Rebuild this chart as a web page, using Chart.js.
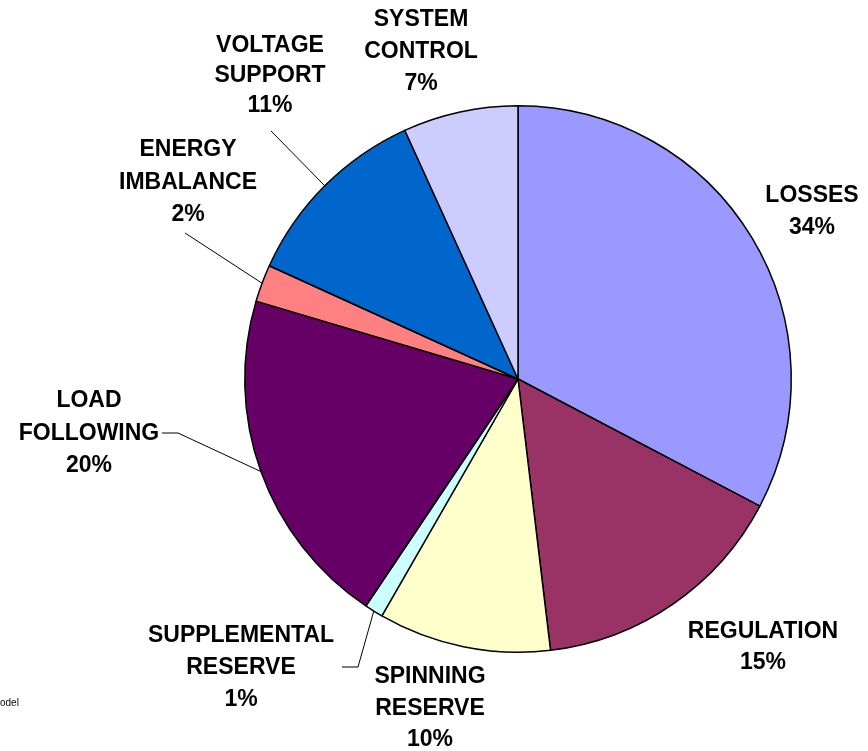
<!DOCTYPE html>
<html>
<head>
<meta charset="utf-8">
<script src="https://cdn.jsdelivr.net/npm/chart.js@4/dist/chart.umd.min.js"></script>
<style>
  html, body { margin: 0; padding: 0; background: #ffffff; }
  #wrap { width: 868px; height: 751px; position: relative; overflow: hidden; }
  #note { position: absolute; left: 0px; top: 697px; font: 10px 'Liberation Sans', Arial, sans-serif; color: #000; }
</style>
</head>
<body>
<div id="wrap"><canvas id="c" width="868" height="751"></canvas><div id="note">odel</div></div>
<script>
// ---- data ----
const categories = ["LOSSES", "REGULATION", "SPINNING RESERVE", "SUPPLEMENTAL RESERVE",
                    "LOAD FOLLOWING", "ENERGY IMBALANCE", "VOLTAGE SUPPORT", "SYSTEM CONTROL"];
const shares = [32.7, 15.4, 10.2, 1.1, 20.2, 2.2, 11.4, 6.8];
const percentLabels = ["34%", "15%", "10%", "1%", "20%", "2%", "11%", "7%"];
const labelLines = [["LOSSES"], ["REGULATION"], ["SPINNING", "RESERVE"], ["SUPPLEMENTAL", "RESERVE"],
                    ["LOAD", "FOLLOWING"], ["ENERGY", "IMBALANCE"], ["VOLTAGE", "SUPPORT"], ["SYSTEM", "CONTROL"]];

// ---- styling / layout ----
const colors = ["#9999FF", "#993366", "#FFFFCC", "#CCFFFF", "#660066", "#FF8080", "#0066CC", "#CCCCFF"];
// text block: center x, first line y, line spacing; leader: text-side points (null = none)
const labelLayout = [
  { x: 812, y: 196, dy: 32, leader: null },
  { x: 763, y: 632, dy: 31, leader: null },
  { x: 430, y: 677, dy: 31.5, leader: null },
  { x: 241, y: 636, dy: 32, leader: [[342, 667], [358, 667]] },
  { x: 89,  y: 401, dy: 32.5, leader: [[162, 433], [178, 433]] },
  { x: 188, y: 150, dy: 32.5, leader: [[185, 233]] },
  { x: 270, y: 46,  dy: 30, leader: [[271, 131]] },
  { x: 421, y: 20,  dy: 32, leader: null }
];

const labelPlugin = {
  id: 'sliceLabels',
  afterDraw(chart) {
    const ctx = chart.ctx;
    const meta = chart.getDatasetMeta(0);
    ctx.save();
    ctx.fillStyle = '#000';
    ctx.font = "bold 23px 'Liberation Sans', Arial, sans-serif";
    ctx.textAlign = 'center';
    ctx.textBaseline = 'middle';
    meta.data.forEach((arc, i) => {
      const L = labelLayout[i];
      const lines = labelLines[i].concat([percentLabels[i]]);
      lines.forEach((t, k) => ctx.fillText(t, L.x, L.y + k * L.dy));
      if (L.leader) {
        const p = arc.getProps(['x', 'y', 'startAngle', 'endAngle', 'outerRadius'], true);
        const mid = (p.startAngle + p.endAngle) / 2;
        const ex = p.x + Math.cos(mid) * p.outerRadius;
        const ey = p.y + Math.sin(mid) * p.outerRadius;
        ctx.beginPath();
        ctx.strokeStyle = '#000';
        ctx.lineWidth = 1;
        ctx.moveTo(L.leader[0][0], L.leader[0][1]);
        for (let j = 1; j < L.leader.length; j++) ctx.lineTo(L.leader[j][0], L.leader[j][1]);
        ctx.lineTo(ex, ey);
        ctx.stroke();
      }
    });
    ctx.restore();
  }
};

new Chart(document.getElementById('c'), {
  type: 'pie',
  data: {
    labels: categories,
    datasets: [{
      data: shares,
      backgroundColor: colors,
      borderColor: '#000000',
      borderWidth: 1.5,
      borderAlign: 'center'
    }]
  },
  options: {
    responsive: false,
    animation: false,
    rotation: 0,
    layout: { padding: { left: 244, right: 76, top: 105, bottom: 98 } },
    plugins: { legend: { display: false }, tooltip: { enabled: false } }
  },
  plugins: [labelPlugin]
});
</script>
</body>
</html>
